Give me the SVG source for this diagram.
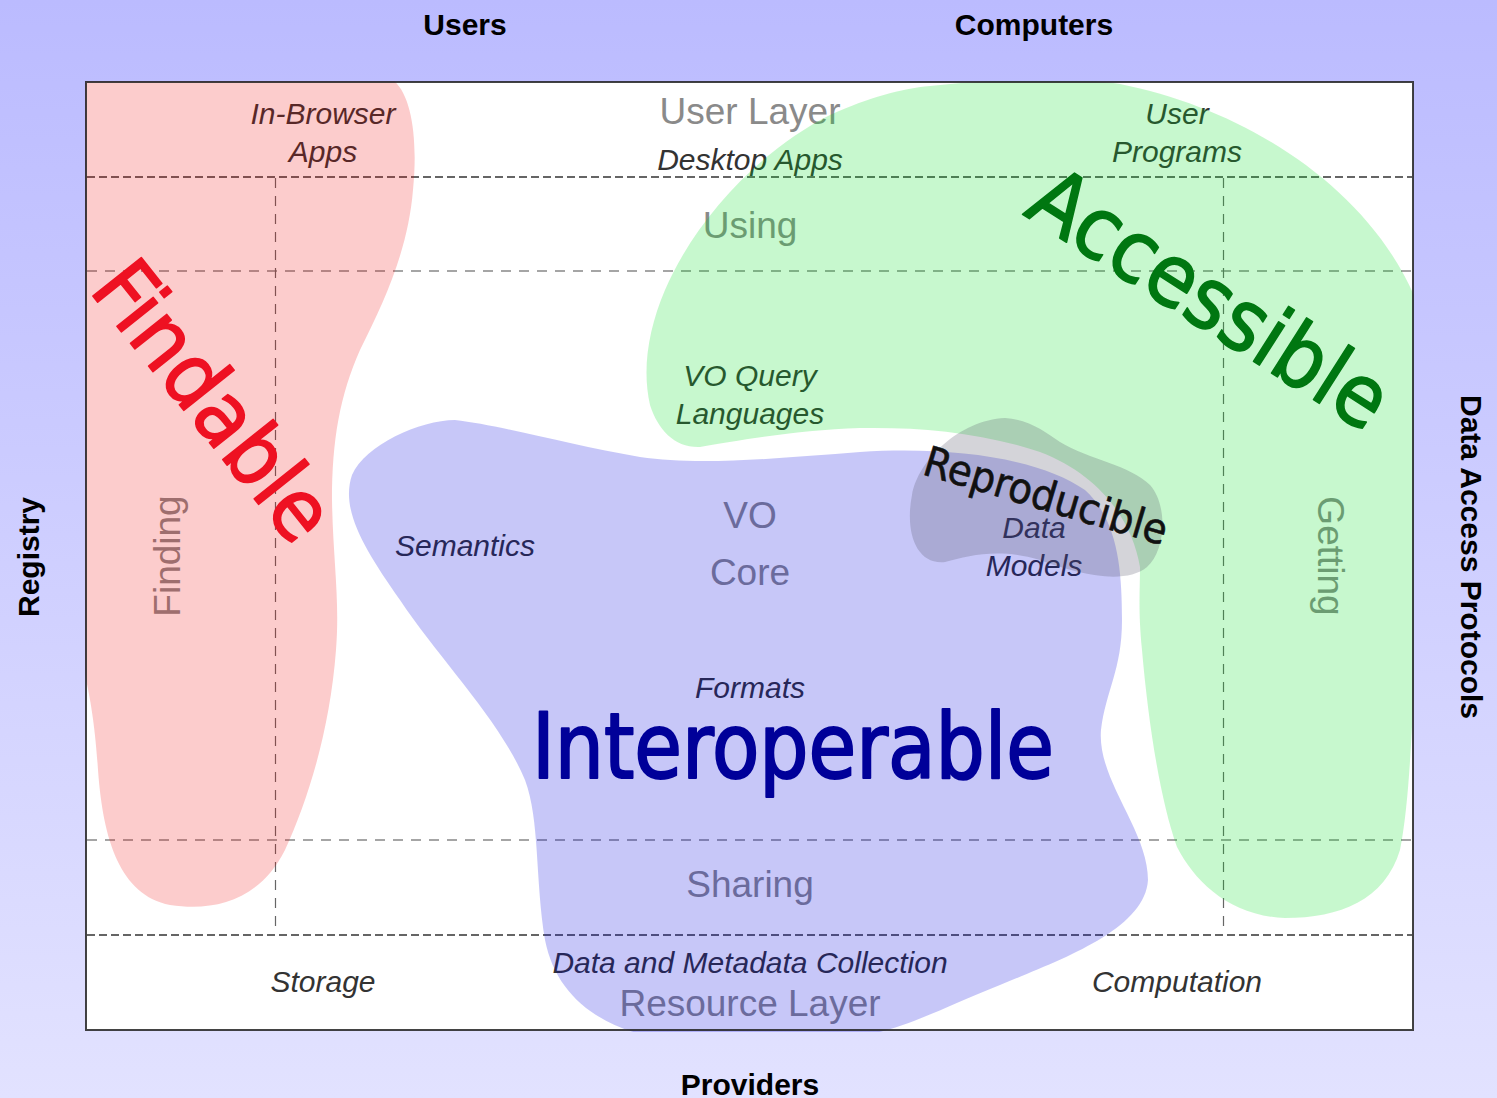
<svg xmlns="http://www.w3.org/2000/svg" width="1497" height="1098" viewBox="0 0 1497 1098">
<defs>
<linearGradient id="bg" x1="0" y1="0" x2="0" y2="1">
<stop offset="0" stop-color="#bbbbff"/>
<stop offset="1" stop-color="#e2e2ff"/>
</linearGradient>
<clipPath id="frameClip"><rect x="85" y="81" width="1329" height="951"/></clipPath>
</defs>
<style>
.axis{font-family:"Liberation Sans",Arial,sans-serif;font-weight:bold;font-size:30px;fill:#000;text-anchor:middle}
.lbl{font-family:"Liberation Sans",Arial,sans-serif;font-style:italic;font-size:30px;fill:#333;text-anchor:middle}
.layer{font-family:"Liberation Sans",Arial,sans-serif;font-size:37px;fill:#8a8a8a;text-anchor:middle}
.big{font-family:"DejaVu Sans Condensed","DejaVu Sans",sans-serif;font-stretch:condensed;stroke-linejoin:round}
.dark{fill:none;stroke:#333;stroke-width:1.6;stroke-dasharray:8 4}
.light{fill:none;stroke:#888;stroke-width:1.5;stroke-dasharray:10 8}
.vert{fill:none;stroke:#666;stroke-width:1.2;stroke-dasharray:10 8}
</style>
<rect x="0" y="0" width="1497" height="1098" fill="url(#bg)"/>
<g id="axes">
<text class="axis" x="465" y="35">Users</text>
<text class="axis" x="1034" y="35">Computers</text>
<text class="axis" x="750" y="1095">Providers</text>
<text class="axis" transform="translate(39,557) rotate(-90)">Registry</text>
<text class="axis" transform="translate(1461,557) rotate(90)">Data Access Protocols</text>
</g>
<rect id="frame-bg" x="86" y="82" width="1327" height="948" fill="#fff"/>
<g id="grid">
<line class="dark" x1="87" y1="177" x2="1412" y2="177"/>
<line class="light" x1="87" y1="271" x2="1412" y2="271"/>
<line class="light" x1="87" y1="840" x2="1412" y2="840"/>
<line class="dark" x1="87" y1="935" x2="1412" y2="935"/>
<line class="vert" x1="275.5" y1="178" x2="275.5" y2="934"/>
<line class="vert" x1="1223.5" y1="178" x2="1223.5" y2="934"/>
</g>
<g id="labels">
<text class="lbl" x="323" y="124">In-Browser</text>
<text class="lbl" x="323" y="162">Apps</text>
<text class="layer" x="750" y="124">User Layer</text>
<text class="lbl" x="750" y="170">Desktop Apps</text>
<text class="lbl" x="1177" y="124">User</text>
<text class="lbl" x="1177" y="162">Programs</text>
<text class="layer" x="750" y="238">Using</text>
<text class="lbl" x="750" y="386">VO Query</text>
<text class="lbl" x="750" y="424">Languages</text>
<text class="layer" transform="translate(180,556) rotate(-90)">Finding</text>
<text class="layer" transform="translate(1318,556) rotate(90)">Getting</text>
<text class="lbl" x="465" y="556">Semantics</text>
<text class="layer" x="750" y="528">VO</text>
<text class="layer" x="750" y="585">Core</text>
<text class="lbl" x="1034" y="538">Data</text>
<text class="lbl" x="1034" y="576">Models</text>
<text class="lbl" x="750" y="698">Formats</text>
<text class="layer" x="750" y="897">Sharing</text>
<text class="lbl" x="750" y="973">Data and Metadata Collection</text>
<text class="layer" x="750" y="1016">Resource Layer</text>
<text class="lbl" x="323" y="992">Storage</text>
<text class="lbl" x="1177" y="992">Computation</text>
</g>
<g id="blobs" clip-path="url(#frameClip)">
<path id="blob-findable" fill="#ee0000" fill-opacity="0.2" d="M80,80 L393,80 C412,95 418,140 413,190 C408,250 385,300 360,350 C340,395 332,440 332,500 C333,560 340,600 336,650 C330,730 308,800 285,850 C260,900 215,912 170,905 C120,895 103,840 98,770 C94,710 88,690 80,650 Z"/>
<path id="blob-accessible" fill="#00dd22" fill-opacity="0.22" d="M930,86 C1000,78 1080,78 1120,84 C1250,110 1370,190 1416,300 L1416,650 C1412,720 1410,800 1400,850 C1385,900 1340,918 1285,918 C1230,916 1195,882 1177,847 C1160,800 1148,720 1142,650 C1138,610 1140,590 1140,567 C1132,520 1100,475 1040,452 C980,432 920,427 860,428 C800,430 740,440 700,447 C675,448 658,430 650,405 C642,370 648,330 665,290 C695,220 760,150 830,115 C870,97 900,89 930,86 Z"/>
<path id="blob-interoperable" fill="#0000dd" fill-opacity="0.22" d="M455,420 C500,425 570,445 640,457 C700,466 780,458 860,452 C950,446 1040,458 1085,490 C1118,520 1122,570 1122,620 C1122,670 1106,690 1101,730 C1097,780 1148,830 1148,880 C1145,930 1060,960 1000,985 C950,1005 905,1028 870,1034 L640,1034 C590,1020 555,990 545,940 C535,880 540,820 525,780 C500,720 440,660 400,600 C365,550 340,510 352,475 C365,445 420,420 455,420 Z"/>
<path id="blob-reproducible" fill="#555566" fill-opacity="0.25" d="M1005,418 C1030,420 1045,432 1060,442 C1090,460 1130,465 1150,485 C1168,505 1166,550 1147,567 C1125,585 1080,575 1040,560 C1000,548 970,555 945,562 C915,565 905,530 912,495 C918,460 960,420 1005,418 Z"/>
</g>
<rect id="frame" x="86" y="82" width="1327" height="948" fill="none" stroke="#222" stroke-width="2" stroke-opacity="0.85"/>
<g id="principles">
<text id="findable" class="big" transform="translate(88,290) rotate(51.5)" font-size="85" fill="#ee1122" stroke="#ee1122" stroke-width="1.5" textLength="330" lengthAdjust="spacingAndGlyphs">Findable</text>
<text id="accessible" class="big" transform="translate(1022,214) rotate(32.5)" font-size="86" fill="#007711" stroke="#007711" stroke-width="1.5" textLength="408" lengthAdjust="spacingAndGlyphs">Accessible</text>
<text id="reproducible" class="big" transform="translate(921,474) rotate(16.5)" font-size="42" fill="#111" stroke="#111" stroke-width="0.6" textLength="252" lengthAdjust="spacingAndGlyphs">Reproducible</text>
<text id="interoperable" class="big" x="532" y="778" font-size="90" fill="#000099" stroke="#000099" stroke-width="2" textLength="522" lengthAdjust="spacingAndGlyphs">Interoperable</text>
</g>
</svg>
